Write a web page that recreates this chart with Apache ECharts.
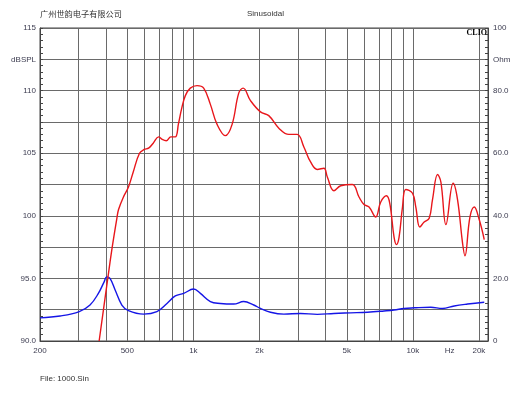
<!DOCTYPE html>
<html><head><meta charset="utf-8">
<script src="https://cdn.jsdelivr.net/npm/echarts@6/dist/echarts.min.js"></script>
<style>html,body{margin:0;padding:0;background:#fff}#c{width:530px;height:398px}</style>
</head><body><div id="c"></div>
<script>
// SPL response (left axis, dB SPL)
const splFreq = [372,408,425,448,456,480,506,532,568,597,625,656,694,721,752,789,827,856,885,919,968,1039,1114,1195,1282,1399,1501,1609,1685,1820,2021,2205,2451,2722,2973,3187,3419,3668,3933,4076,4369,4689,5302,5683,5990,6316,6773,7140,7580,7850,8210,8420,8655,8970,9285,9965,10316,10760,11260,11870,12290,12960,13420,14150,15260,15980,16850,17270,18200,19050,20060,21150];
const splDb = [90.0,95.1,97.3,99.8,100.5,101.5,102.3,103.5,105.0,105.3,105.4,105.8,106.3,106.1,106.0,106.3,106.3,107.4,108.6,109.6,110.2,110.4,110.2,108.9,107.3,106.4,107.3,109.8,110.2,109.2,108.3,108.0,107.0,106.5,106.5,105.5,104.3,103.7,103.8,103.1,102.0,102.4,102.5,101.5,100.9,100.7,99.9,101.1,101.6,101.0,98.3,97.7,98.3,100.7,102.1,101.8,100.7,99.1,99.5,99.8,101.3,103.3,102.7,99.3,102.6,101.3,97.8,96.8,99.9,100.7,99.7,98.1];
// Impedance (right axis, Ohm)
const impFreq = [200,247,302,338,369,392,403,417,440,472,506,593,682,758,827,903,1002,1076,1195,1327,1526,1695,1884,2021,2245,2583,3078,3668,4369,5207,6210,7389,8210,9120,10130,12070,13650,15430,17770,21150];
const impOhm = [7.4,8.0,9.4,11.5,15.2,18.9,20.5,20.0,16.3,11.5,9.7,8.6,9.4,12.0,14.4,15.2,16.6,15.2,12.6,12.0,11.8,12.6,11.5,10.4,9.2,8.6,8.8,8.5,8.8,9.0,9.2,9.6,9.9,10.4,10.6,10.8,10.4,11.2,11.8,12.4];
// Axis ticks / labels
const xGridValues = [200,300,400,500,600,700,800,900,1000,2000,3000,4000,5000,6000,7000,8000,9000,10000,20000];
const xLabelValues = [200,500,1000,2000,5000,10000,14700,20000];
const xLabelTexts = ['200','500','1k','2k','5k','10k','Hz','20k'];
const leftLabelValues = [90,95,100,105,110,112.5,115];
const leftLabelTexts = ['90.0','95.0','100','105','110','dBSPL','115'];
const rightLabelValues = [0,20,40,60,80,90,100];
const rightLabelTexts = ['0','20.0','40.0','60.0','80.0','Ohm','100'];
const titleLeft = '广州世韵电子有限公司';
const titleMid = 'Sinusoidal';
const fileText = 'File: 1000.Sin';

function lookup(vals, texts, v){
  for (let i=0;i<vals.length;i++){ if (Math.abs(vals[i]-v) < 1e-6*Math.max(1,Math.abs(v))) return texts[i]; }
  return '';
}
const lblColor = '#3c3c50';
const chart = echarts.init(document.getElementById('c'), null, {renderer:'canvas'});
chart.setOption({
  animation:false,
  backgroundColor:'#fff',
  grid:{left:40, top:28, right:42, bottom:57, show:true, borderColor:'#444', borderWidth:1, outerBoundsMode:'none', containLabel:false},
  xAxis:{
    type:'log', min:200, max:22000, logBase:10,
    axisLine:{show:true, lineStyle:{color:'#444', width:1}},
    axisTick:{show:false, customValues:xGridValues},
    axisLabel:{customValues:xLabelValues, color:lblColor, fontSize:8, fontFamily:'Liberation Sans, Arial', margin:6,
      formatter:(v)=>lookup(xLabelValues, xLabelTexts, v)},
    splitLine:{show:true, lineStyle:{color:'#6a6a6a', width:1}},
    minorTick:{show:false}, minorSplitLine:{show:false}
  },
  yAxis:[{
    type:'value', min:90, max:115, interval:2.5, position:'left',
    axisLine:{show:true, lineStyle:{color:'#444'}},
    axisTick:{show:true, inside:true, length:3, lineStyle:{color:'#444'}},
    minorTick:{show:true, splitNumber:5, length:3, lineStyle:{color:'#444'}},
    axisLabel:{color:lblColor, fontSize:8, fontFamily:'Liberation Sans, Arial', margin:4,
      formatter:(v)=>lookup(leftLabelValues, leftLabelTexts, v)},
    splitLine:{show:true, lineStyle:{color:'#6a6a6a', width:1}}
  },{
    type:'value', min:0, max:100, interval:10, position:'right',
    axisLine:{show:true, lineStyle:{color:'#444'}},
    axisTick:{show:true, inside:true, length:3, lineStyle:{color:'#444'}},
    minorTick:{show:true, splitNumber:5, length:3, lineStyle:{color:'#444'}},
    axisLabel:{color:lblColor, fontSize:8, fontFamily:'Liberation Sans, Arial', margin:5,
      formatter:(v)=>lookup(rightLabelValues, rightLabelTexts, v)},
    splitLine:{show:false}
  }],
  graphic:[
    {type:'text', x:40, y:14, style:{text:titleLeft, fill:'#333', font:'8.2px "Noto Sans CJK SC"', textVerticalAlign:'middle'}},
    {type:'text', x:247, y:14, style:{text:titleMid, fill:'#333', font:'8px "Liberation Sans", Arial', textVerticalAlign:'middle'}},
    {type:'text', x:487, y:33, z:10, style:{text:'CLIO', fill:'#000', font:'bold 8px "Liberation Serif", serif', textAlign:'right', textVerticalAlign:'middle'}},
    {type:'text', x:40, y:379, style:{text:fileText, fill:'#333', font:'8px "Liberation Sans", Arial', textVerticalAlign:'middle'}}
  ],
  series:[
    {type:'line', yAxisIndex:0, data:splFreq.map((f,i)=>[f, splDb[i]]), smooth:0.4, symbol:'none', clip:true,
      lineStyle:{color:'#e8161b', width:1.4}, z:3},
    {type:'line', yAxisIndex:1, data:impFreq.map((f,i)=>[f, impOhm[i]]), smooth:0.4, symbol:'none', clip:true,
      lineStyle:{color:'#1515e6', width:1.4}, z:2}
  ]
});
</script></body></html>
